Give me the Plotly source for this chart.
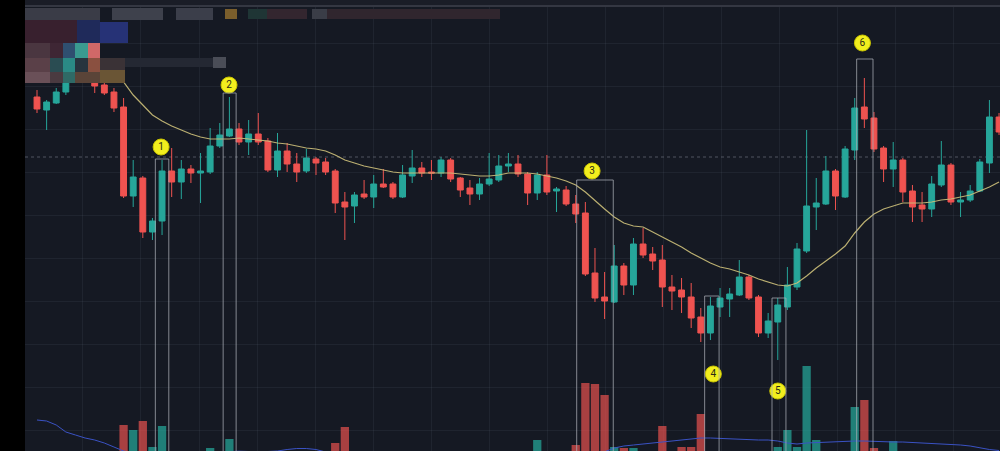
import plotly.graph_objects as go

# ---------------- data (arbitrary price units) ----------------
idx = list(range(101))

opens = [354, 341, 348, 359, 375, 393, 369, 366, 359, 344,
         255, 273, 219, 230, 280, 269, 282, 278, 279, 305,
         315, 322, 309, 317, 310, 281, 300, 287, 280, 292,
         289, 280, 249, 245, 257, 254, 267, 267, 254, 275,
         283, 279, 278, 291, 273, 263, 257, 267, 271, 285,
         287, 277, 258, 276, 260, 261, 247, 238, 178, 154,
         149, 185, 166, 207, 197, 191, 164, 161, 154, 134,
         118, 144, 152, 156, 174, 154, 118, 129, 144, 164,
         200, 244, 247, 280, 254, 301, 344, 333, 303, 282,
         291, 260, 246, 242, 266, 286, 249, 251, 260, 288,
         334]
highs = [361, 351, 363, 381, 401, 403, 373, 371, 363, 353,
         291, 275, 233, 291, 303, 291, 286, 298, 323, 328,
         354, 328, 331, 338, 313, 318, 308, 298, 302, 294,
         293, 282, 259, 259, 271, 276, 282, 269, 286, 301,
         289, 291, 294, 293, 274, 271, 273, 298, 296, 298,
         296, 279, 279, 296, 264, 265, 256, 249, 203, 179,
         206, 188, 213, 223, 204, 206, 176, 173, 168, 143,
         154, 163, 163, 191, 176, 156, 138, 153, 184, 208,
         321, 273, 295, 282, 305, 353, 373, 339, 305, 309,
         293, 266, 259, 275, 310, 288, 259, 266, 292, 351,
         338]
lows = [338, 321, 347, 356, 371, 376, 358, 356, 339, 253,
        244, 213, 211, 216, 254, 252, 268, 248, 277, 303,
        314, 306, 296, 306, 279, 274, 279, 269, 278, 276,
        276, 238, 211, 228, 252, 243, 263, 252, 253, 268,
        274, 271, 274, 269, 254, 246, 251, 265, 269, 279,
        274, 246, 251, 256, 239, 245, 228, 175, 149, 132,
        148, 156, 156, 193, 181, 144, 141, 138, 123, 109,
        111, 134, 134, 155, 151, 114, 113, 91, 141, 161,
        198, 221, 246, 241, 253, 291, 323, 299, 269, 264,
        249, 229, 229, 234, 264, 246, 234, 249, 259, 278,
        316]
closes = [342, 349, 359, 375, 393, 381, 365, 358, 343, 255,
          274, 219, 230, 280, 269, 282, 278, 280, 305, 316,
          322, 309, 317, 309, 281, 300, 287, 279, 293, 288,
          279, 248, 244, 256, 254, 267, 264, 254, 276, 283,
          278, 278, 291, 272, 261, 257, 267, 272, 285, 287,
          277, 258, 276, 259, 262, 247, 237, 177, 153, 150,
          185, 166, 207, 196, 190, 164, 160, 154, 133, 118,
          145, 153, 157, 174, 153, 118, 130, 146, 166, 202,
          245, 248, 280, 255, 302, 343, 332, 302, 282, 291,
          259, 244, 242, 267, 286, 249, 251, 260, 289, 334,
          319]

ma_line = [None, None, None, None, None, None, None, None, 377, 369,
           356, 346, 336, 330, 325, 321, 317, 314, 312, 312,
           312, 313, 312, 311, 310, 308, 307, 305, 303, 302,
           300, 296, 291, 288, 285, 283, 281, 279, 278, 278,
           278, 278, 278, 278, 277, 276, 275, 275, 276, 278,
           278, 278, 277, 275, 273, 270, 266, 259, 250, 242,
           234, 228, 225, 224, 219, 214, 209, 204, 198, 193,
           188, 184, 182, 179, 176, 172, 169, 166, 165, 168,
           175, 183, 190, 197, 205, 218, 229, 237, 242, 245,
           248, 248, 248, 249, 251, 252, 254, 256, 260, 264,
           269]

volume = [1200, 1100, 950, 1300, 1250, 1150, 900, 1000, 1350, 1750,
          1700, 1790, 1530, 1740, 1400, 1100, 800, 1200, 1520, 1300,
          1610, 1150, 1050, 1000, 1350, 1100, 900, 850, 950, 700,
          900, 1570, 1730, 1200, 800, 1000, 700, 900, 1250, 1000,
          650, 700, 900, 1100, 1050, 900, 800, 950, 1150, 800,
          1000, 1400, 1600, 1350, 800, 1300, 1550, 2170, 2160, 2050,
          1530, 1520, 1520, 1300, 1100, 1740, 1250, 1530, 1530, 1860,
          1450, 1000, 900, 1200, 1100, 1450, 1200, 1530, 1700, 1530,
          2340, 1600, 1450, 1400, 1480, 1930, 2000, 1520, 1450, 1590,
          1400, 1200, 900, 1100, 1300, 1350, 800, 900, 1200, 1450,
          1000]

vol_ma = [1800, 1790, 1750, 1680, 1650, 1620, 1600, 1570, 1530, 1490,
          1470, 1460, 1450, 1440, 1440, 1450, 1460, 1470, 1475, 1480,
          1485, 1488, 1485, 1480, 1485, 1490, 1505, 1515, 1515, 1505,
          1480, 1460, 1450, 1445, 1440, 1435, 1430, 1430, 1425, 1420,
          1420, 1420, 1425, 1430, 1430, 1435, 1440, 1440, 1445, 1450,
          1450, 1455, 1460, 1460, 1465, 1470, 1470, 1475, 1478, 1482,
          1520, 1540, 1550, 1560, 1570, 1580, 1590, 1600, 1610, 1620,
          1620, 1615, 1610, 1610, 1605, 1600, 1600, 1590, 1570, 1560,
          1570, 1575, 1580, 1580, 1585, 1590, 1590, 1585, 1580, 1580,
          1580, 1575, 1570, 1570, 1565, 1560, 1550, 1540, 1520, 1505,
          1495]

# numbered event markers
mark_labels = ["1", "2", "3", "4", "5", "6"]
mark_x = [12.9, 19.96, 57.7, 70.3, 77.0, 85.8]
mark_y = [304, 366, 280, 77, 60, 408]
box_x0 = [12.3, 19.35, 56.1, 69.4, 76.4, 85.2]
box_x1 = [13.7, 20.7, 59.9, 70.9, 77.85, 86.9]
box_top = [292, 358, 271, 155, 153, 392]

UP = "#26a69a"
DOWN = "#ef5350"

fig = go.Figure()

vol_colors = ["rgba(38,166,154,0.72)" if c >= o else "rgba(239,83,80,0.68)"
              for o, c in zip(opens, closes)]
fig.add_trace(go.Bar(x=idx, y=volume, marker_color=vol_colors, marker_line_width=0,
                     width=0.86, yaxis="y2", hoverinfo="skip"))
fig.add_trace(go.Scatter(x=idx, y=vol_ma, mode="lines", yaxis="y2",
                         line=dict(color="#3a52c4", width=1), hoverinfo="skip"))

fig.add_trace(go.Candlestick(
    x=idx, open=opens, high=highs, low=lows, close=closes,
    increasing=dict(line=dict(color=UP, width=1), fillcolor=UP),
    decreasing=dict(line=dict(color=DOWN, width=1), fillcolor=DOWN),
    whiskerwidth=0, hoverinfo="skip"))

fig.add_trace(go.Scatter(x=idx, y=ma_line, mode="lines",
                         line=dict(color="rgba(205,192,122,0.9)", width=1.2),
                         hoverinfo="skip", connectgaps=False))

shapes = []
for x0, x1, top in zip(box_x0, box_x1, box_top):
    shapes.append(dict(type="rect", xref="x", yref="y", x0=x0, x1=x1, y0=-5, y1=top,
                       line=dict(color="rgba(170,174,182,0.75)", width=1),
                       fillcolor="rgba(0,0,0,0)", layer="above"))

# dotted horizontal price line
shapes.append(dict(type="line", xref="paper", yref="y", x0=0, x1=1, y0=294, y1=294,
                   line=dict(color="rgba(150,155,168,0.45)", width=1, dash="dot"),
                   layer="below"))


def px_rect(x0, y0, x1, y1, color):
    W, H, L = 1000, 451, 25
    return dict(type="rect", xref="paper", yref="paper",
                x0=(x0 - L) / (W - L), x1=(x1 - L) / (W - L),
                y0=1 - y1 / H, y1=1 - y0 / H,
                line=dict(width=0), fillcolor=color, layer="above")


# top bar line and blurred header (privacy blur in the screenshot)
shapes.append(px_rect(25, 0, 1000, 5, "#1a1d27"))
shapes.append(px_rect(25, 5, 1000, 7, "#343742"))
blur = [
    (25, 8, 100, 20, "#3a3c47"), (112, 8, 163, 20, "#3e414c"), (176, 8, 213, 20, "#3b3e4a"),
    (225, 9, 237, 19, "#7a5e2c"), (248, 9, 267, 19, "#1f3535"), (267, 9, 307, 19, "#33262f"),
    (312, 9, 327, 19, "#3a3d47"), (327, 9, 500, 19, "#30262e"),
    (25, 20, 77, 43, "#38202e"), (77, 20, 100, 43, "#1f2a5a"), (100, 22, 128, 43, "#263276"),
    (25, 43, 50, 58, "#4a3640"), (50, 43, 63, 58, "#3e2634"), (63, 43, 75, 58, "#2f4f70"),
    (75, 43, 88, 58, "#3a9a90"), (88, 43, 100, 58, "#d06868"),
    (25, 58, 50, 72, "#5a4048"), (50, 58, 63, 72, "#2a4c52"), (63, 58, 75, 72, "#2a8a85"),
    (75, 58, 88, 72, "#27343e"), (88, 58, 100, 72, "#8a5040"), (100, 58, 125, 70, "#3a3236"),
    (25, 72, 50, 83, "#6a5058"), (50, 72, 63, 83, "#4a3a40"), (63, 72, 75, 83, "#2f6a66"),
    (75, 72, 100, 83, "#5a4438"), (100, 70, 125, 83, "#6a5535"),
    (125, 58, 213, 67, "#242833"), (213, 57, 226, 68, "#4a4d57"),
]
for b in blur:
    shapes.append(px_rect(*b))

fig.add_trace(go.Scatter(
    x=mark_x, y=mark_y, mode="markers+text", text=mark_labels,
    textposition="middle center", textfont=dict(color="#2a2a18", size=10, family="Roboto"),
    marker=dict(size=16, color="#f2ee1e", line=dict(color="#c9c400", width=1)),
    cliponaxis=False, hoverinfo="skip"))

fig.update_layout(
    width=1000, height=451,
    margin=dict(l=25, r=0, t=0, b=0),
    paper_bgcolor="#000000",
    plot_bgcolor="#151923",
    showlegend=False,
    boxgap=0.13,
    bargap=0.1,
    shapes=shapes,
    xaxis=dict(range=[-1.247, 100.1], showticklabels=False, zeroline=False,
               rangeslider=dict(visible=False),
               showgrid=True, gridcolor="rgba(120,126,142,0.11)", gridwidth=1,
               tick0=4.78, dtick=6.03, tickmode="linear", ticks=""),
    yaxis=dict(range=[0, 451], showticklabels=False, zeroline=False,
               showgrid=True, gridcolor="rgba(120,126,142,0.11)", gridwidth=1,
               tick0=408, dtick=43, tickmode="linear", ticks=""),
    yaxis2=dict(range=[1490, 6000], overlaying="y", showgrid=False,
                showticklabels=False, zeroline=False),
)

fig.write_html("out.html", config={"displayModeBar": False},
               post_script="document.body.style.margin='0';document.body.style.background='#000';")
